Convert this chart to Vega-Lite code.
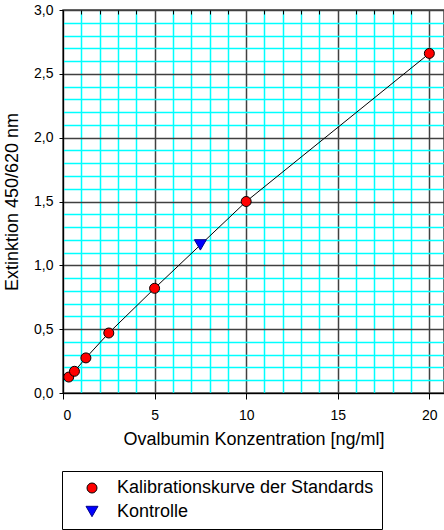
{
  "$schema": "https://vega.github.io/schema/vega-lite/v6.json",
  "width": 381,
  "height": 383,
  "autosize": {"type": "none"},
  "padding": {"left": 63, "top": 10, "right": 0, "bottom": 137},
  "background": "white",
  "config": {
    "font": "Liberation Sans",
    "view": {"stroke": "#404040", "strokeWidth": 1.5},
    "axis": {
      "labelFont": "Liberation Sans",
      "titleFont": "Liberation Sans",
      "labelColor": "black",
      "titleColor": "black",
      "titleFontWeight": "normal",
      "labelFontSize": 14,
      "titleFontSize": 18
    },
    "legend": {
      "labelFont": "Liberation Sans",
      "labelFontSize": 18,
      "labelColor": "black",
      "labelLimit": 400
    }
  },
  "data": {
    "values": [
      {"c": 0.3125, "E": 0.125, "Serie": "Kalibrationskurve der Standards"},
      {"c": 0.625, "E": 0.17, "Serie": "Kalibrationskurve der Standards"},
      {"c": 1.25, "E": 0.275, "Serie": "Kalibrationskurve der Standards"},
      {"c": 2.5, "E": 0.47, "Serie": "Kalibrationskurve der Standards"},
      {"c": 5, "E": 0.82, "Serie": "Kalibrationskurve der Standards"},
      {"c": 10, "E": 1.5, "Serie": "Kalibrationskurve der Standards"},
      {"c": 20, "E": 2.66, "Serie": "Kalibrationskurve der Standards"},
      {"c": 7.5, "E": 1.16, "Serie": "Kontrolle"}
    ]
  },
  "layer": [
    {
      "transform": [{"filter": "datum.Serie === 'Kalibrationskurve der Standards'"}],
      "mark": {"type": "line", "color": "black", "strokeWidth": 1},
      "encoding": {
        "x": {
          "field": "c", "type": "quantitative",
          "scale": {"domain": [0, 20.8], "nice": false, "zero": false},
          "axis": {
            "orient": "top", "grid": true, "gridColor": "#00ffff", "gridWidth": 1.5, "gridOpacity": 1,
            "values": [1, 2, 3, 4, 6, 7, 8, 9, 11, 12, 13, 14, 16, 17, 18, 19],
            "labels": false, "ticks": true, "tickSize": -4, "tickColor": "black", "tickWidth": 1,
            "domain": false, "title": null
          }
        },
        "y": {
          "field": "E", "type": "quantitative",
          "scale": {"domain": [0, 3], "nice": false, "zero": false},
          "axis": {
            "orient": "left", "grid": true, "gridColor": "#00ffff", "gridWidth": 1.5, "gridOpacity": 1,
            "values": [0.1, 0.2, 0.3, 0.4, 0.6, 0.7, 0.8, 0.9, 1.1, 1.2, 1.3, 1.4, 1.6, 1.7, 1.8, 1.9, 2.1, 2.2, 2.3, 2.4, 2.6, 2.7, 2.8, 2.9],
            "labels": false, "ticks": false, "domain": false, "title": null
          }
        }
      }
    },
    {
      "mark": {"type": "point", "filled": true, "opacity": 1, "strokeWidth": 1},
      "encoding": {
        "x": {
          "field": "c", "type": "quantitative",
          "axis": {
            "orient": "bottom", "grid": true, "gridColor": "#404040", "gridWidth": 1.5, "gridOpacity": 1,
            "values": [0, 5, 10, 15, 20],
            "domain": true, "domainColor": "black", "ticks": true, "tickColor": "black", "tickSize": 6,
            "labelPadding": 9, "titlePadding": 8,
            "title": "Ovalbumin Konzentration [ng/ml]"
          }
        },
        "y": {
          "field": "E", "type": "quantitative",
          "axis": {
            "orient": "left", "grid": true, "gridColor": "#404040", "gridWidth": 1.5, "gridOpacity": 1,
            "values": [0, 0.5, 1, 1.5, 2, 2.5, 3],
            "labelExpr": "replace(format(datum.value, '.1f'), '.', ',')",
            "domain": true, "domainColor": "black", "ticks": true, "tickColor": "black", "tickSize": 4,
            "labelPadding": 6, "titlePadding": 12,
            "title": "Extinktion 450/620 nm"
          }
        },
        "fill": {
          "field": "Serie", "type": "nominal",
          "scale": {"domain": ["Kalibrationskurve der Standards", "Kontrolle"], "range": ["#ff0000", "#0000ff"]},
          "legend": {
            "title": null,
            "orient": "none",
            "legendX": -1,
            "legendY": 461,
            "padding": 8,
            "strokeColor": "black",
            "fillColor": "white",
            "symbolSize": 100,
            "symbolStrokeWidth": 1,
            "symbolOffset": 13,
            "labelOffset": 16,
            "rowPadding": 5.5,
            "encode": {
              "symbols": {
                "shape": {
                  "condition": {"test": "datum.value === 'Kontrolle'", "value": "triangle-down"},
                  "value": "M-2.17,0 C-2.17,0.5523 -2.6177,1 -3.17,1 C-3.7223,1 -4.17,0.5523 -4.17,0 C-4.17,-0.5523 -3.7223,-1 -3.17,-1 C-2.6177,-1 -2.17,-0.5523 -2.17,0 Z M-2.17,0 L2.17,0 M4.17,0 C4.17,0.5523 3.7223,1 3.17,1 C2.6177,1 2.17,0.5523 2.17,0 C2.17,-0.5523 2.6177,-1 3.17,-1 C3.7223,-1 4.17,-0.5523 4.17,0 Z"
                },
                "size": {
                  "condition": {"test": "datum.value === 'Kontrolle'", "value": 144},
                  "value": 100
                },
                "strokeWidth": {"value": 1},
                "opacity": {"value": 1}
              }
            }
          }
        },
        "stroke": {
          "field": "Serie", "type": "nominal",
          "scale": {"domain": ["Kalibrationskurve der Standards", "Kontrolle"], "range": ["#000000", "#00008b"]}
        },
        "shape": {
          "field": "Serie", "type": "nominal",
          "scale": {"domain": ["Kalibrationskurve der Standards", "Kontrolle"], "range": ["circle", "triangle-down"]}
        },
        "size": {
          "field": "Serie", "type": "nominal",
          "scale": {"domain": ["Kalibrationskurve der Standards", "Kontrolle"], "range": [100, 144]}
        }
      }
    }
  ],
  "resolve": {"axis": {"x": "independent", "y": "independent"}}
}
